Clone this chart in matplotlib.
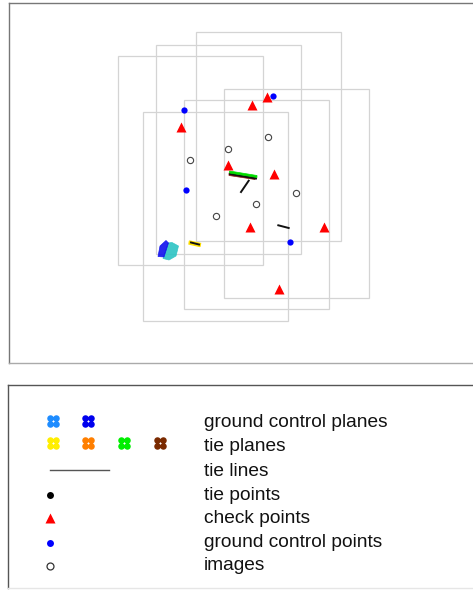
import matplotlib
matplotlib.use('Agg')
import matplotlib.pyplot as plt
from matplotlib.patches import Rectangle, Polygon
from matplotlib.path import Path

plt.rcParams['font.family'] = ['Liberation Sans', 'DejaVu Sans']

# camera centres (local easting / northing)
image_e = [181, 219.3, 259.3, 206.7, 247, 287.3]
image_n = [203, 214, 226.3, 147, 158.7, 169.7]
footprint_w = 145
footprint_h = 209

check_e = [242.7, 257.7, 171.7, 219.3, 264.7, 241, 314.7, 270.3]
check_n = [258, 266.3, 235.7, 198, 188.7, 135.7, 136.3, 74.3]

gcp_e = [263.7, 175, 177, 280.7]
gcp_n = [267.3, 252.7, 173, 121]

# tie lines as (start, end) pairs
tie_lines = [
    ((232, 171), (239.7, 182.3)),
    ((269.3, 137.7), (279.7, 135)),
    ((182, 120.5), (190, 118.5)),
    ((221, 189), (247, 184.5)),
]

# outlines of the plane point clouds
gc_plane_cyan = [(159, 120), (163, 120.5), (169.5, 117), (167, 107), (160, 103), (154, 104.5)]
gc_plane_blue = [(151, 117), (157, 122.5), (159.5, 120), (155, 106), (149, 106.5)]
tie_plane_yellow = [(180.5, 122), (191.5, 119.5), (191, 116.5), (180, 119)]
tie_plane_brown = [(220, 190), (247, 186), (246, 183.5), (220, 187.5)]
tie_plane_green = [(220.5, 192), (248, 187.5), (248, 185.5), (220.5, 190)]

legend_labels = ['ground control planes', 'tie planes', 'tie lines', 'tie points',
                 'check points', 'ground control points', 'images']
gc_plane_colors = ['#1e8cff', '#0000ee']
tie_plane_colors = ['#ffee00', '#ff7f00', '#00ee00', '#7a2a00']

# four-dot marker used for plane point clouds
clover = Path.make_compound_path(*[Path.circle((dx, dy), 0.56)
                                   for dx, dy in [(-0.5, -0.5), (0.5, -0.5), (-0.5, 0.5), (0.5, 0.5)]])

W, H = 473, 590
fig = plt.figure(figsize=(W / 100, H / 100), dpi=100)

# map panel
ax = fig.add_axes([9 / W, (H - 363) / H, 471 / W, 360 / H])
ax.set_xlim(0, 471)
ax.set_ylim(0, 360)
ax.set_xticks([])
ax.set_yticks([])
for s in ax.spines.values():
    s.set_color('#777777')
    s.set_linewidth(1.0)
ax.spines['bottom'].set_color('#aaaaaa')

for e, n in zip(image_e, image_n):
    ax.add_patch(Rectangle((e - footprint_w / 2, n - footprint_h / 2), footprint_w, footprint_h,
                           fill=False, edgecolor='#d4d4d4', linewidth=0.9, zorder=1))

ax.add_patch(Polygon(gc_plane_cyan, closed=True, facecolor='#2cc4c4', edgecolor='#2cc4c4',
                     lw=0.5, alpha=0.9, zorder=2))
ax.add_patch(Polygon(gc_plane_blue, closed=True, facecolor='#1010ee', edgecolor='#1010ee',
                     lw=0.5, alpha=0.9, zorder=3))
ax.add_patch(Polygon(tie_plane_yellow, closed=True, facecolor='#ffe000', edgecolor='#ffe000', lw=1.0, zorder=2))
ax.add_patch(Polygon(tie_plane_brown, closed=True, facecolor='#8b1a1a', edgecolor='#8b1a1a', lw=0.5, zorder=2))

for (x0, y0), (x1, y1) in tie_lines:
    ax.plot([x0, x1], [y0, y1], color='#111111', lw=1.4, zorder=3)

ax.add_patch(Polygon(tie_plane_green, closed=True, facecolor='#00dd00', edgecolor='#00dd00', lw=0.5, zorder=4))

ax.plot(image_e, image_n, 'o', ms=4.5, mfc='white', mec='#444444', mew=0.8, ls='none', zorder=5)
ax.plot(check_e, check_n, '^', ms=7, color='#ff0000', mec='none', ls='none', zorder=6)
ax.plot(gcp_e, gcp_n, 'o', ms=4.5, color='#0000ff', mec='none', ls='none', zorder=6)

# legend panel
lg = fig.add_axes([7.5 / W, (H - 588) / H, 472.5 / W, 203 / H])
lg.set_xlim(7.5, 480)
lg.set_ylim(588, 385)
lg.set_xticks([])
lg.set_yticks([])
for s in lg.spines.values():
    s.set_color('#555555')
    s.set_linewidth(1.0)
lg.spines['bottom'].set_color('#e6e6e6')

col_x = [52.7, 88.3, 124.3, 160]
for x, c in zip(col_x, gc_plane_colors):
    lg.plot(x, 421, marker=clover, ms=9, color=c, mew=0, ls='none')
for x, c in zip(col_x, tie_plane_colors):
    lg.plot(x, 442.5, marker=clover, ms=9, color=c, mew=0, ls='none')
lg.plot([49.5, 109], [470, 470], color='#555555', lw=1.0)
lg.plot(49.5, 494.5, 'o', ms=5, color='black', mec='none')
lg.plot(50, 518, '^', ms=7.5, color='#ff0000', mec='none')
lg.plot(49.5, 542.5, 'o', ms=5, color='#0000ff', mec='none')
lg.plot(49.5, 566, 'o', ms=5, mfc='white', mec='#333333', mew=0.9)

baselines = [427, 451, 476.5, 500, 523, 547, 570]
for label, y in zip(legend_labels, baselines):
    lg.text(204, y, label, fontsize=13.8, color='#111111', va='baseline', ha='left')

fig.savefig('out.png', dpi=100)
